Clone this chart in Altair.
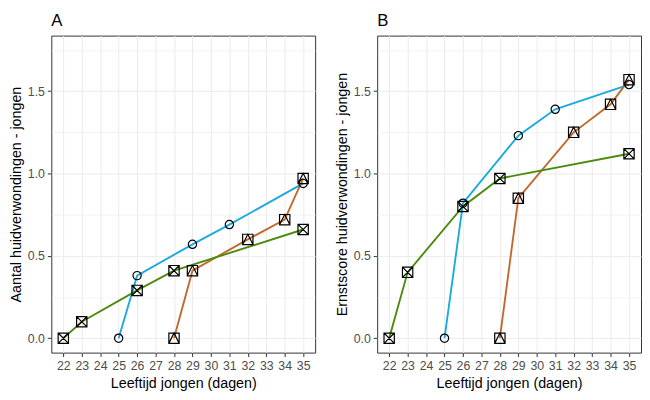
import altair as alt
import pandas as pd

# ---------------- data ----------------
series_names = ["Reeks 1", "Reeks 2", "Reeks 3"]
series_colors = ["#1BA9E1", "#C0692B", "#4D8A0C"]

x_ticks = list(range(22, 36))
y_ticks = [0, 0.25, 0.5, 0.75, 1.0, 1.25, 1.5, 1.75]

# Panel A: Aantal huidverwondingen
a_s1_x = [25, 26, 29, 31, 35]
a_s1_y = [0.0, 0.38, 0.57, 0.69, 0.94]
a_s2_x = [28, 29, 32, 34, 35]
a_s2_y = [0.0, 0.41, 0.60, 0.72, 0.97]
a_s3_x = [22, 23, 26, 28, 35]
a_s3_y = [0.0, 0.10, 0.29, 0.41, 0.66]

# Panel B: Ernstscore huidverwondingen
b_s1_x = [25, 26, 29, 31, 35]
b_s1_y = [0.0, 0.82, 1.23, 1.39, 1.54]
b_s2_x = [28, 29, 32, 34, 35]
b_s2_y = [0.0, 0.85, 1.25, 1.42, 1.57]
b_s3_x = [22, 23, 26, 28, 35]
b_s3_y = [0.0, 0.40, 0.80, 0.97, 1.12]


def make_df(parts):
    rows = []
    for name, xs, ys in parts:
        for xv, yv in zip(xs, ys):
            rows.append({"series": name, "x": xv, "y": yv})
    return pd.DataFrame(rows)


df_a = make_df([(series_names[0], a_s1_x, a_s1_y),
                (series_names[1], a_s2_x, a_s2_y),
                (series_names[2], a_s3_x, a_s3_y)])
df_b = make_df([(series_names[0], b_s1_x, b_s1_y),
                (series_names[1], b_s2_x, b_s2_y),
                (series_names[2], b_s3_x, b_s3_y)])

# shapes: open circle, square with triangle, square with X
shape_circle = "M0.8,0A0.8,0.8 0 1,1 -0.8,0A0.8,0.8 0 1,1 0.8,0Z"
shape_sq_tri = "M-1,-1H1V1H-1Z M-1,1L0,-1L1,1"
shape_sq_x = "M-1,-1H1V1H-1Z M-1,-1L1,1 M-1,1L1,-1"
series_shapes = [shape_circle, shape_sq_tri, shape_sq_x]

FONT = "Liberation Sans"


def panel(df, label, ytitle):
    xenc = alt.X("x:Q",
                 scale=alt.Scale(domain=[21.35, 35.65], nice=False, zero=False),
                 axis=alt.Axis(values=x_ticks, title="Leeftijd jongen (dagen)",
                               format="d", labelFlush=False, titlePadding=5))
    yenc = alt.Y("y:Q",
                 scale=alt.Scale(domain=[-0.0875, 1.8375], nice=False, zero=False),
                 axis=alt.Axis(values=y_ticks, title=ytitle,
                               labelExpr="datum.value % 0.5 == 0 ? format(datum.value, '.1f') : ''",
                               gridWidth={"condition": {"test": "datum.value % 0.5 == 0", "value": 1}, "value": 0.6},
                               tickOpacity={"condition": {"test": "datum.value % 0.5 == 0", "value": 1}, "value": 0}))
    base = alt.Chart(df).encode(x=xenc, y=yenc)
    lines = base.mark_line(strokeWidth=1.9).encode(
        color=alt.Color("series:N", scale=alt.Scale(domain=series_names, range=series_colors), legend=None),
        detail="series:N",
    )
    points = base.mark_point(filled=False, color="black", strokeWidth=1.2, size=110, opacity=1).encode(
        shape=alt.Shape("series:N", scale=alt.Scale(domain=series_names, range=series_shapes), legend=None),
        detail="series:N",
    )
    return alt.layer(lines, points).properties(
        width=268, height=322,
        title=alt.TitleParams(label, anchor="start", frame="group", fontSize=17,
                              fontWeight="normal", font=FONT, color="black", offset=6),
    )


pa = panel(df_a, "A", "Aantal huidverwondingen - jongen")
pb = panel(df_b, "B", "Ernstscore huidverwondingen - jongen")

chart = alt.hconcat(pa, pb, spacing=18).properties(
    padding={"left": 0, "top": 0, "right": 0, "bottom": 0}
).configure_view(
    stroke="#333333", strokeWidth=1
).configure_axis(
    domain=False,
    grid=True,
    gridColor="#EBEBEB",
    tickColor="#333333",
    tickSize=4,
    labelColor="#4D4D4D",
    labelFont=FONT,
    labelFontSize=12.5,
    labelPadding=3,
    titleFont=FONT,
    titleFontSize=14.5,
    titleFontWeight="normal",
    titleColor="black",
    titlePadding=4,
).configure_concat(spacing=18)

chart.save("out.html", embed_options={"renderer": "svg", "actions": False})
